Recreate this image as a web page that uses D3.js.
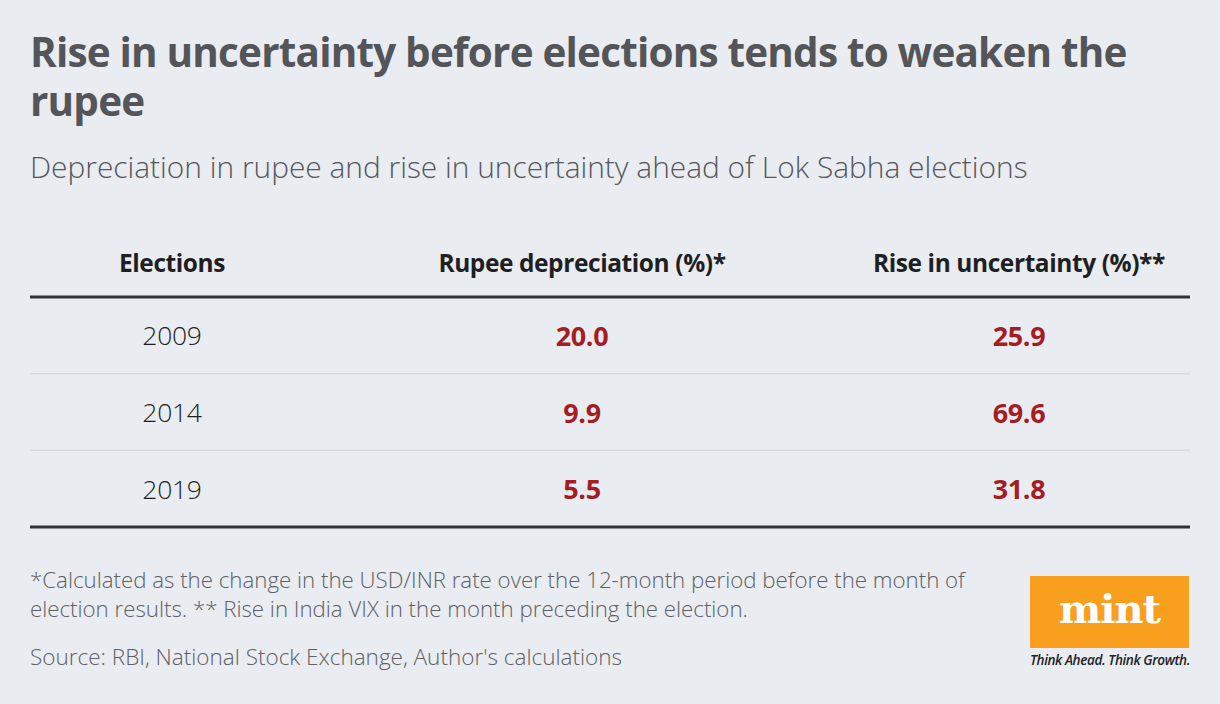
<!DOCTYPE html>
<html>
<head>
<meta charset="utf-8">
<script src="https://cdn.jsdelivr.net/npm/d3@7"></script>
<style>
  html, body { margin: 0; padding: 0; background: #E9ECF1; }
  svg { display: block; }
</style>
</head>
<body>
<svg id="chart" width="1220" height="704"></svg>
<script>
// ---- Data ----
const title = ["Rise in uncertainty before elections tends to weaken the", "rupee"];
const subtitle = "Depreciation in rupee and rise in uncertainty ahead of Lok Sabha elections";
const columns = ["Elections", "Rupee depreciation (%)*", "Rise in uncertainty (%)**"];
const elections = ["2009", "2014", "2019"];
const rupeeDepreciation = [20.0, 9.9, 5.5];
const riseInUncertainty = [25.9, 69.6, 31.8];
const footnotes = [
  "*Calculated as the change in the USD/INR rate over the 12-month period before the month of",
  "election results. ** Rise in India VIX in the month preceding the election."
];
const source = "Source: RBI, National Stock Exchange, Author's calculations";
const logoText = "mint";
const logoTagline = "Think Ahead. Think Growth.";

// ---- Layout ----
const svg = d3.select("#chart");
const W = 1220, H = 704;
const left = 30, right = 1190;
const font = "'Open Sans', 'Noto Sans', sans-serif";

function fitWidth(sel, target) {
  const node = sel.node();
  let fs = parseFloat(sel.attr("font-size"));
  for (let i = 0; i < 4; i++) {
    const w = node.getComputedTextLength();
    if (w <= 0) break;
    fs = fs * target / w;
    sel.attr("font-size", fs);
  }
  return fs;
}

svg.append("rect").attr("width", W).attr("height", H).attr("fill", "#E9ECF1");

// Title (one text, two lines)
const probe = svg.append("text")
  .attr("font-family", font).attr("font-weight", 700).attr("font-size", 38)
  .attr("letter-spacing", -0.8).text(title[0]);
const tfs = fitWidth(probe, 1097);
probe.remove();
const tt = svg.append("text")
  .attr("font-family", font).attr("font-weight", 700).attr("font-size", tfs)
  .attr("fill", "#545558").attr("letter-spacing", -0.8);
tt.selectAll("tspan").data(title).join("tspan")
  .attr("x", left).attr("y", (d, i) => 67 + i * 49).text(d => d);

// Subtitle
const st = svg.append("text").attr("x", left).attr("y", 178)
  .attr("font-family", font).attr("font-weight", 300).attr("font-size", 28)
  .attr("fill", "#55575b").text(subtitle);
fitWidth(st, 998);

// Table scales
const colX = d3.scaleOrdinal().domain(columns).range([172, 582, 1019]);
const y = d3.scaleBand().domain(elections).range([297, 527]);

// Header
const hProbe = svg.append("text")
  .attr("font-family", font).attr("font-weight", 700).attr("font-size", 22)
  .attr("letter-spacing", -0.4).text(columns[1]);
const hfs = fitWidth(hProbe, 287);
hProbe.remove();
svg.append("g").selectAll("text").data(columns).join("text")
  .attr("x", d => colX(d)).attr("y", 262)
  .attr("text-anchor", "middle").attr("dominant-baseline", "central")
  .attr("font-family", font).attr("font-weight", 700).attr("font-size", hfs)
  .attr("letter-spacing", -0.4)
  .attr("fill", "#1f1f22").text(d => d);

// Thin row separators
svg.append("g").selectAll("line").data(elections.slice(1)).join("line")
  .attr("x1", left).attr("x2", right)
  .attr("y1", d => y(d)).attr("y2", d => y(d))
  .attr("stroke", "#D6D9DE").attr("stroke-width", 1.5);

// Thick rules
svg.append("g").selectAll("line").data([y.range()[0], y.range()[1]]).join("line")
  .attr("x1", left).attr("x2", right)
  .attr("y1", d => d).attr("y2", d => d)
  .attr("stroke", "#333336").attr("stroke-width", 3);

// Rows
const rows = elections.map((e, i) => ({ e, r: rupeeDepreciation[i], u: riseInUncertainty[i] }));
const rowG = svg.append("g").selectAll("g").data(rows).join("g")
  .attr("transform", d => `translate(0,${y(d.e) + y.bandwidth() / 2})`);

rowG.append("text")
  .attr("x", colX(columns[0])).attr("y", 0)
  .attr("text-anchor", "middle").attr("dominant-baseline", "central")
  .attr("font-family", font).attr("font-weight", 300).attr("font-size", 26.5)
  .attr("letter-spacing", -0.3)
  .attr("fill", "#1f1f22").text(d => d.e);

rowG.append("text")
  .attr("x", colX(columns[1])).attr("y", 0)
  .attr("text-anchor", "middle").attr("dominant-baseline", "central")
  .attr("font-family", font).attr("font-weight", 700).attr("font-size", 27)
  .attr("letter-spacing", -0.4)
  .attr("fill", "#A51D24").text(d => d3.format(".1f")(d.r));

rowG.append("text")
  .attr("x", colX(columns[2])).attr("y", 0)
  .attr("text-anchor", "middle").attr("dominant-baseline", "central")
  .attr("font-family", font).attr("font-weight", 700).attr("font-size", 27)
  .attr("letter-spacing", -0.4)
  .attr("fill", "#A51D24").text(d => d3.format(".1f")(d.u));

// Footnotes
const fnWidths = [935, 718];
footnotes.forEach((f, i) => {
  const ft = svg.append("text").attr("x", left).attr("y", 588 + i * 29)
    .attr("font-family", font).attr("font-weight", 300).attr("font-size", 20)
    .attr("fill", "#5e6064").text(f);
  fitWidth(ft, fnWidths[i]);
});
const src = svg.append("text").attr("x", left).attr("y", 665)
  .attr("font-family", font).attr("font-weight", 300).attr("font-size", 20)
  .attr("fill", "#5e6064").text(source);
fitWidth(src, 592);

// Logo
const logo = svg.append("g");
logo.append("rect").attr("x", 1030).attr("y", 576).attr("width", 159).attr("height", 72)
  .attr("fill", "#F8A01E");
const lt = logo.append("text").attr("x", 1109.5).attr("y", 623)
  .attr("text-anchor", "middle")
  .attr("font-family", "'DejaVu Serif', 'Liberation Serif', serif").attr("font-weight", 700)
  .attr("font-size", 44).attr("fill", "#ffffff").attr("letter-spacing", -1).text(logoText);
fitWidth(lt, 101);
const tg = logo.append("text").attr("x", 1030).attr("y", 665)
  .attr("font-family", font).attr("font-style", "italic").attr("font-weight", 600)
  .attr("font-size", 13).attr("fill", "#222226").attr("letter-spacing", -0.4).text(logoTagline);
fitWidth(tg, 160);
</script>
</body>
</html>
